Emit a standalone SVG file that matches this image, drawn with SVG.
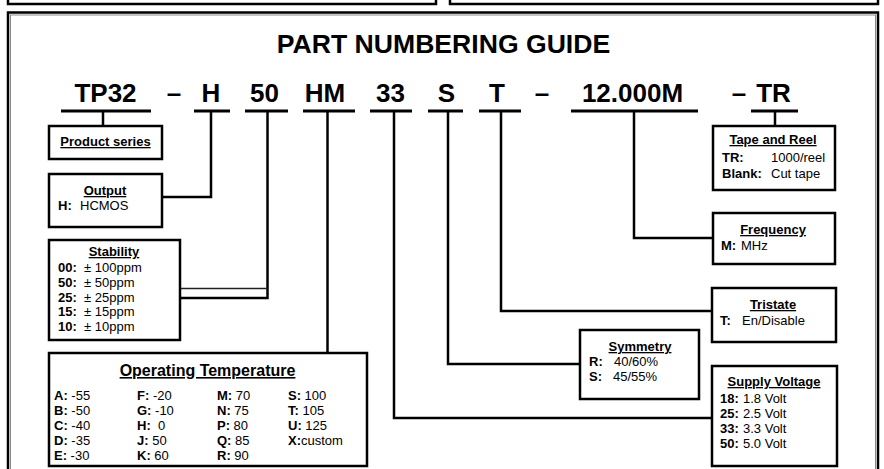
<svg xmlns="http://www.w3.org/2000/svg" width="884" height="469" viewBox="0 0 884 469">
<style>
text{font-family:"Liberation Sans",Arial,sans-serif;fill:#000}
.box{fill:#fff;stroke:#000;stroke-width:2.5}
.frame{fill:none;stroke:#000;stroke-width:2.5}
.inner{fill:none;stroke:#888;stroke-width:1}
.con{fill:none;stroke:#000;stroke-width:2.5}
.ul{stroke:#000;stroke-width:3}
.title{font-size:26.6px;font-weight:bold}
.pn{font-size:26px;font-weight:bold;text-anchor:middle}
.hd{font-size:13px;font-weight:bold;text-decoration:underline;text-anchor:middle}
.hd2{font-size:16px;font-weight:bold;text-decoration:underline;text-anchor:middle}
.t{font-size:13px}
.b{font-weight:bold}
</style>
<rect width="884" height="469" fill="#fff"/>
<g id="top-boxes">
<rect class="frame" x="8" y="-10" width="428" height="14"/>
<rect class="frame" x="450" y="-10" width="428" height="14"/>
</g>
<g id="frame">
<rect class="frame" x="8" y="12.5" width="870" height="470"/>
<rect class="inner" x="10.5" y="15" width="865" height="465"/>
</g>
<g id="title">
<text class="title" x="443.5" y="53" text-anchor="middle">PART NUMBERING GUIDE</text>
</g>
<g id="part-number">
<text class="pn" x="105.5" y="102">TP32</text>
<text class="pn" x="174" y="102">–</text>
<text class="pn" x="211" y="102">H</text>
<text class="pn" x="264.5" y="102">50</text>
<text class="pn" x="325" y="102">HM</text>
<text class="pn" x="390.5" y="102">33</text>
<text class="pn" x="446.5" y="102">S</text>
<text class="pn" x="497" y="102">T</text>
<text class="pn" x="542" y="102">–</text>
<text class="pn" x="632.5" y="102">12.000M</text>
<text class="pn" x="739" y="102">–</text>
<text class="pn" x="773.5" y="102">TR</text>
<line class="ul" x1="61" y1="111" x2="151" y2="111"/>
<line class="ul" x1="194" y1="111" x2="230" y2="111"/>
<line class="ul" x1="245" y1="111" x2="288" y2="111"/>
<line class="ul" x1="303" y1="111" x2="355" y2="111"/>
<line class="ul" x1="370" y1="111" x2="412" y2="111"/>
<line class="ul" x1="428" y1="111" x2="463" y2="111"/>
<line class="ul" x1="479" y1="111" x2="521" y2="111"/>
<line class="ul" x1="571" y1="111" x2="698" y2="111"/>
<line class="ul" x1="751" y1="111" x2="798" y2="111"/>
</g>
<g id="connectors">
<polyline class="con" points="103,111 103,126"/>
<polyline class="con" points="211,111 211,197 162,197"/>
<polyline class="con" points="267.5,111 267.5,298 180,298"/>
<line x1="180" y1="288.5" x2="267.5" y2="288.5" stroke="#222" stroke-width="1.5"/>
<polyline class="con" points="327.5,111 327.5,353"/>
<polyline class="con" points="394,111 394,418 712,418"/>
<polyline class="con" points="448,111 448,364 580,364"/>
<polyline class="con" points="501,111 501,311 712,311"/>
<polyline class="con" points="634,111 634,238 712,238"/>
<polyline class="con" points="775,111 775,126"/>
</g>
<g id="product-series">
<rect class="box" x="49" y="126" width="113" height="33"/>
<text class="hd" x="105.5" y="146">Product series</text>
</g>
<g id="output">
<rect class="box" x="49" y="174" width="113" height="53"/>
<text class="hd" x="105" y="195">Output</text>
<text class="t" y="210"><tspan class="b" x="58">H:</tspan><tspan x="80">HCMOS</tspan></text>
</g>
<g id="stability">
<rect class="box" x="49" y="240" width="131" height="100"/>
<text class="hd" x="114" y="256">Stability</text>
<text class="t" y="272"><tspan class="b" x="58">00:</tspan><tspan x="84">± 100ppm</tspan></text>
<text class="t" y="287"><tspan class="b" x="58">50:</tspan><tspan x="84">± 50ppm</tspan></text>
<text class="t" y="302"><tspan class="b" x="58">25:</tspan><tspan x="84">± 25ppm</tspan></text>
<text class="t" y="316"><tspan class="b" x="58">15:</tspan><tspan x="84">± 15ppm</tspan></text>
<text class="t" y="331"><tspan class="b" x="58">10:</tspan><tspan x="84">± 10ppm</tspan></text>
</g>
<g id="operating-temperature">
<rect class="box" x="49" y="353" width="318" height="113" stroke-width="3"/>
<text class="hd2" x="207.5" y="376">Operating Temperature</text>
<text class="t" x="54" y="400"><tspan class="b">A:</tspan> -55</text>
<text class="t" x="54" y="415"><tspan class="b">B:</tspan> -50</text>
<text class="t" x="54" y="430"><tspan class="b">C:</tspan> -40</text>
<text class="t" x="54" y="445"><tspan class="b">D:</tspan> -35</text>
<text class="t" x="54" y="460"><tspan class="b">E:</tspan> -30</text>
<text class="t" x="137" y="400"><tspan class="b">F:</tspan> -20</text>
<text class="t" x="137" y="415"><tspan class="b">G:</tspan> -10</text>
<text class="t" x="137" y="430" xml:space="preserve"><tspan class="b">H:</tspan>  0</text>
<text class="t" x="137" y="445"><tspan class="b">J:</tspan> 50</text>
<text class="t" x="137" y="460"><tspan class="b">K:</tspan> 60</text>
<text class="t" x="217" y="400"><tspan class="b">M:</tspan> 70</text>
<text class="t" x="217" y="415"><tspan class="b">N:</tspan> 75</text>
<text class="t" x="217" y="430"><tspan class="b">P:</tspan> 80</text>
<text class="t" x="217" y="445"><tspan class="b">Q:</tspan> 85</text>
<text class="t" x="217" y="460"><tspan class="b">R:</tspan> 90</text>
<text class="t" x="288" y="400"><tspan class="b">S:</tspan> 100</text>
<text class="t" x="288" y="415"><tspan class="b">T:</tspan> 105</text>
<text class="t" x="288" y="430"><tspan class="b">U:</tspan> 125</text>
<text class="t" x="288" y="445"><tspan class="b">X:</tspan>custom</text>
</g>
<g id="tape-and-reel">
<rect class="box" x="713" y="126" width="122" height="64"/>
<text class="hd" x="773" y="144">Tape and Reel</text>
<text class="t" y="162"><tspan class="b" x="722">TR:</tspan><tspan x="771">1000/reel</tspan></text>
<text class="t" y="178"><tspan class="b" x="722">Blank:</tspan><tspan x="771">Cut tape</tspan></text>
</g>
<g id="frequency">
<rect class="box" x="713" y="213" width="122" height="51"/>
<text class="hd" x="773" y="234">Frequency</text>
<text class="t" y="250"><tspan class="b" x="721">M:</tspan><tspan x="741">MHz</tspan></text>
</g>
<g id="tristate">
<rect class="box" x="712" y="288" width="124" height="54"/>
<text class="hd" x="773" y="309">Tristate</text>
<text class="t" y="325"><tspan class="b" x="720">T:</tspan><tspan x="742">En/Disable</tspan></text>
</g>
<g id="symmetry">
<rect class="box" x="580" y="330" width="119" height="69"/>
<text class="hd" x="640" y="351">Symmetry</text>
<text class="t" y="366"><tspan class="b" x="589">R:</tspan><tspan x="614">40/60%</tspan></text>
<text class="t" y="381"><tspan class="b" x="589">S:</tspan><tspan x="613">45/55%</tspan></text>
</g>
<g id="supply-voltage">
<rect class="box" x="712" y="366" width="125" height="100"/>
<text class="hd" x="774" y="386">Supply Voltage</text>
<text class="t" y="403"><tspan class="b" x="720">18:</tspan><tspan x="743">1.8 Volt</tspan></text>
<text class="t" y="418"><tspan class="b" x="720">25:</tspan><tspan x="743">2.5 Volt</tspan></text>
<text class="t" y="433"><tspan class="b" x="720">33:</tspan><tspan x="743">3.3 Volt</tspan></text>
<text class="t" y="448"><tspan class="b" x="720">50:</tspan><tspan x="743">5.0 Volt</tspan></text>
</g>
</svg>
